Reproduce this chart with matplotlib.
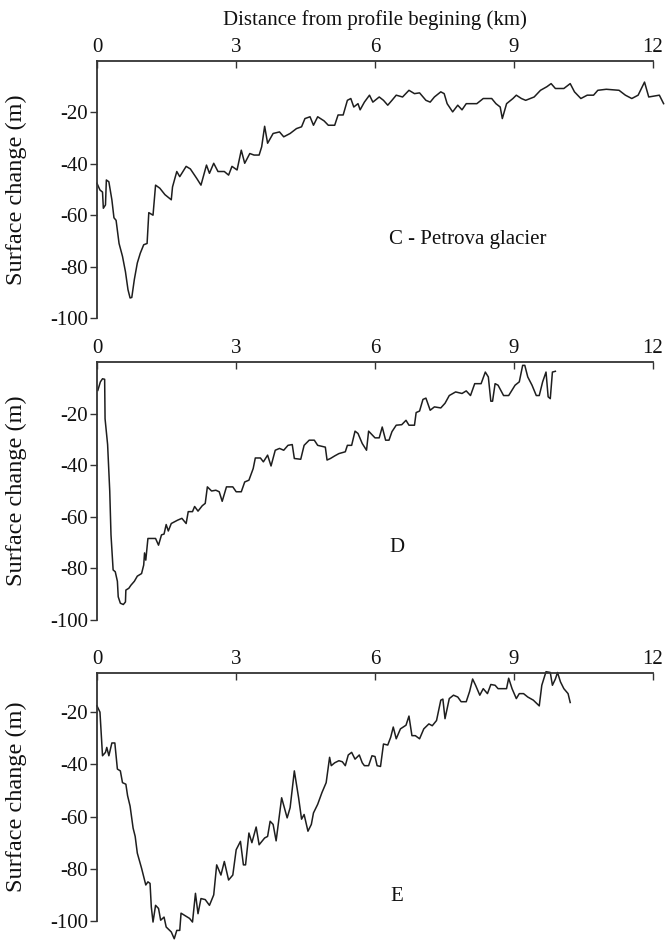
import matplotlib
matplotlib.use("Agg")
import matplotlib.pyplot as plt

plt.rcParams['font.family'] = ['Liberation Serif', 'DejaVu Serif']
plt.rcParams['axes.unicode_minus'] = False

# Panel C - Petrova glacier
c_km = [0.000, 0.064, 0.119, 0.137, 0.183, 0.202, 0.256, 0.321, 0.366, 0.412, 0.476, 0.550, 0.614, 0.669,
        0.714, 0.751, 0.806, 0.870, 0.934, 1.008, 1.081, 1.118, 1.209, 1.264, 1.356, 1.466, 1.603, 1.630,
        1.722, 1.786, 1.924, 2.015, 2.153, 2.244, 2.363, 2.427, 2.519, 2.611, 2.748, 2.840, 2.913, 3.023,
        3.114, 3.188, 3.298, 3.389, 3.499, 3.554, 3.618, 3.682, 3.801, 3.939, 4.030, 4.168, 4.305, 4.415,
        4.488, 4.598, 4.672, 4.763, 4.901, 4.992, 5.130, 5.203, 5.313, 5.404, 5.478, 5.542, 5.633, 5.679,
        5.771, 5.881, 5.954, 6.091, 6.183, 6.275, 6.366, 6.458, 6.595, 6.733, 6.852, 6.962, 7.099, 7.191,
        7.282, 7.420, 7.493, 7.557, 7.676, 7.786, 7.878, 7.969, 8.198, 8.336, 8.519, 8.610, 8.702, 8.748,
        8.840, 8.977, 9.050, 9.160, 9.252, 9.435, 9.572, 9.710, 9.801, 9.893, 10.076, 10.213, 10.305,
        10.443, 10.580, 10.717, 10.809, 10.992, 11.267, 11.404, 11.542, 11.679, 11.817, 11.908, 12.137, 12.229]
c_dz = [-47.6, -50.2, -51, -57.3, -56, -46.3, -47, -54, -61, -62, -71, -76, -82, -89,
        -92.2, -92, -85, -78.6, -74.8, -71.5, -71, -59, -60, -48.3, -49.5, -52, -54, -49,
        -43, -45, -41, -42, -45.7, -48.3, -40.5, -43.7, -39.8, -43, -43, -44.4, -41, -42.4,
        -34.7, -39.8, -36, -36.6, -36.6, -33.4, -25.4, -32, -28.2, -27.6, -29.5, -28.2, -26.3, -25.6,
        -22.4, -21.7, -25, -21.7, -23.3, -25, -25, -21, -21, -15.3, -14.6, -17.9, -16.6, -19,
        -16, -13.3, -16, -14, -15.3, -17.2, -15.3, -13.3, -14, -11.4, -12.7, -12.4, -15.3, -16,
        -14, -12, -12.7, -16.6, -19.8, -17.2, -19, -16.6, -16.6, -14.6, -14.6, -16.6, -17.9, -22.4,
        -16.6, -14.6, -13.3, -14.6, -15.3, -14, -11.4, -10, -8.8, -10.7, -10.7, -8.8, -12,
        -14.6, -13.3, -13.3, -11.4, -11, -11.4, -13.3, -14.6, -13.3, -8.2, -14, -13.3, -16.6]

# Panel D
d_km = [0.018, 0.073, 0.119, 0.165, 0.174, 0.229, 0.275, 0.302, 0.348, 0.394, 0.440, 0.458, 0.504, 0.568,
        0.614, 0.623, 0.687, 0.733, 0.806, 0.870, 0.962, 1.008, 1.026, 1.053, 1.099, 1.264, 1.328, 1.392,
        1.447, 1.493, 1.539, 1.603, 1.740, 1.832, 1.924, 1.969, 2.061, 2.107, 2.180, 2.272, 2.336, 2.382,
        2.473, 2.565, 2.638, 2.702, 2.794, 2.931, 3.004, 3.114, 3.188, 3.279, 3.371, 3.417, 3.527, 3.591,
        3.682, 3.756, 3.847, 3.939, 4.030, 4.122, 4.214, 4.259, 4.397, 4.470, 4.580, 4.690, 4.763, 4.928,
        4.965, 5.038, 5.130, 5.221, 5.359, 5.404, 5.496, 5.569, 5.633, 5.725, 5.817, 5.862, 6.000, 6.091,
        6.156, 6.229, 6.302, 6.366, 6.458, 6.577, 6.669, 6.733, 6.852, 6.888, 6.962, 7.035, 7.099, 7.191,
        7.282, 7.420, 7.511, 7.603, 7.740, 7.878, 7.969, 8.061, 8.152, 8.290, 8.381, 8.446, 8.500, 8.537,
        8.592, 8.656, 8.775, 8.885, 9.023, 9.114, 9.187, 9.233, 9.297, 9.389, 9.481, 9.545, 9.618, 9.691,
        9.737, 9.783, 9.829, 9.893]
d_dz = [-11, -7.7, -6.5, -6.7, -22, -32, -50, -67, -80.6, -81.3, -85, -91, -93.5, -94,
        -93, -88.4, -87.7, -86.5, -85, -83, -82, -78.7, -74, -76.8, -68.4, -68.4, -71, -67,
        -66.7, -63, -65.5, -62.6, -61.3, -60.6, -62.6, -58, -58, -56, -57.8, -55.7, -54.8, -48.4,
        -50, -49.7, -50.3, -54, -48.4, -48.4, -50.3, -50.3, -46.5, -45.8, -41.3, -37.2, -37.2, -38.7,
        -36.1, -40.3, -34.2, -33.5, -34.2, -32.3, -32, -37.4, -37.7, -32.3, -30.3, -30.3, -32.3, -33,
        -38, -37.4, -36.4, -35.5, -34.8, -32.3, -32.3, -26.8, -27.7, -31.6, -34.2, -26.8, -29.4, -29.4,
        -25.2, -30.3, -30.3, -27, -24.5, -24.3, -22.6, -24.5, -24.5, -19.6, -19, -14.5, -14, -18.7,
        -17.4, -17.8, -16, -13, -11.6, -12.2, -11.2, -13, -8.4, -8.4, -3.9, -5.8, -15.2, -15.2,
        -8.4, -9, -13, -13, -9, -7.7, -1.3, -1.3, -5.8, -9, -13, -13, -7.7, -3.9,
        -13.5, -14.2, -3.9, -3.6]

# Panel E
e_km = [0.000, 0.064, 0.119, 0.183, 0.211, 0.256, 0.321, 0.385, 0.440, 0.504, 0.550, 0.623, 0.660, 0.714,
        0.779, 0.824, 0.870, 0.962, 1.008, 1.053, 1.099, 1.145, 1.172, 1.209, 1.264, 1.328, 1.374, 1.447,
        1.493, 1.603, 1.667, 1.722, 1.786, 1.814, 1.905, 1.997, 2.061, 2.125, 2.180, 2.244, 2.336, 2.427,
        2.519, 2.583, 2.675, 2.748, 2.840, 2.931, 3.004, 3.096, 3.160, 3.206, 3.279, 3.343, 3.435, 3.499,
        3.618, 3.682, 3.737, 3.801, 3.866, 3.985, 4.104, 4.168, 4.259, 4.351, 4.415, 4.470, 4.553, 4.626,
        4.672, 4.763, 4.855, 4.946, 5.020, 5.056, 5.130, 5.221, 5.295, 5.359, 5.423, 5.496, 5.569, 5.661,
        5.725, 5.771, 5.862, 5.935, 6.000, 6.046, 6.119, 6.183, 6.275, 6.339, 6.394, 6.458, 6.549, 6.669,
        6.733, 6.797, 6.870, 6.962, 7.053, 7.163, 7.236, 7.328, 7.420, 7.465, 7.511, 7.603, 7.694, 7.786,
        7.859, 7.969, 8.043, 8.107, 8.171, 8.262, 8.336, 8.427, 8.500, 8.592, 8.656, 8.839, 8.885, 8.958,
        9.050, 9.114, 9.206, 9.297, 9.417, 9.545, 9.600, 9.691, 9.783, 9.829, 9.893, 9.939, 10.003, 10.076,
        10.167, 10.213]
e_dz = [-17.6, -20, -36.7, -35.4, -33.5, -36.7, -31.8, -31.8, -41.8, -42.5, -47, -47.6, -52, -56,
        -64.4, -67.6, -74, -79.8, -83, -86.2, -85, -85.6, -94.6, -100.4, -94, -95.2, -99.7, -98.5,
        -102.3, -104.2, -106.8, -103.6, -103.6, -97, -98, -99, -100.4, -89.4, -97.2, -91.4, -91.8, -94,
        -90, -78.5, -82.4, -77.2, -84.3, -82.4, -72.7, -69.5, -78.5, -78.5, -66.3, -70, -64, -70.8,
        -68.2, -67.6, -61.8, -63, -69.3, -52.8, -60.5, -56.6, -42.5, -52.8, -61, -59.2, -65.6, -63,
        -58.6, -55.3, -50.8, -47, -37.3, -40.5, -39.4, -38.6, -39, -40.5, -36.4, -35.4, -38, -36.4,
        -39.4, -40.5, -40.5, -36.7, -37, -40.5, -40.8, -32.2, -32.6, -29.6, -25.7, -30.2, -26.4, -25,
        -21.5, -29, -29, -30.2, -26.4, -24.5, -25.2, -23.2, -15.4, -15, -22.5, -14.8, -13.5, -14.2,
        -16, -16, -12, -7.3, -9.7, -13.5, -11, -12.9, -9.4, -9.7, -11, -11, -7, -11,
        -14.8, -12.9, -12.9, -14.2, -15.4, -17.6, -9.7, -4.5, -4.8, -9.7, -7.3, -4.8, -8.4, -11,
        -12.9, -16.3]

x_ticks = [0, 3, 6, 9, 12]
y_ticks = [-100, -80, -60, -40, -20]
panel_labels = ["C - Petrova glacier", "D", "E"]
x_title = "Distance from profile begining (km)"
y_title = "Surface change (m)"

W, H = 665, 941
fig = plt.figure(figsize=(W / 100, H / 100), dpi=100)

def frac_box(top_px, bot_px, left_px=97, right_px=653):
    return [left_px / W, 1 - bot_px / H, (right_px - left_px) / W, (bot_px - top_px) / H]

panels = [
    (c_km, c_dz, frac_box(61, 318), (-100, 0), panel_labels[0], (6.3, -69.5), 'left'),
    (d_km, d_dz, frac_box(362, 620), (-100, 0), panel_labels[1], (6.47, -72), 'center'),
    (e_km, e_dz, frac_box(673, 921), (-100, -5), panel_labels[2], (6.47, -90.5), 'center'),
]

col = '#1e1e1e'
fs = 15
for i, (xs, ys, box, ylim, lab, lpos, ha) in enumerate(panels):
    ax = fig.add_axes(box)
    ax.plot(xs, ys, color=col, lw=1.1, clip_on=False)
    ax.set_xlim(0, 12)
    ax.set_ylim(*ylim)
    for s in ['right', 'bottom']:
        ax.spines[s].set_visible(False)
    for s in ['top', 'left']:
        ax.spines[s].set_linewidth(1.3)
        ax.spines[s].set_color('#333333')
    ax.xaxis.set_ticks_position('top')
    ax.xaxis.set_label_position('top')
    ax.set_xticks(x_ticks)
    ax.set_xticklabels([str(t) for t in x_ticks])
    ax.set_yticks(y_ticks)
    ax.set_yticklabels([str(t) for t in y_ticks])
    ax.tick_params(axis='x', direction='in', length=5, width=1.0, pad=3, labelsize=fs,
                   colors='#333333', labelcolor='#111111')
    ax.tick_params(axis='y', direction='out', length=5, width=1.0, pad=1.5, labelsize=fs,
                   colors='#333333', labelcolor='#111111')
    ax.set_ylabel(y_title, fontsize=17.5, color='#111111')
    ax.yaxis.set_label_coords(-0.126, 0.5)
    if i == 0:
        ax.set_xlabel(x_title, fontsize=fs, color='#111111', labelpad=9)
    ax.text(lpos[0], lpos[1], lab, fontsize=fs, ha=ha, va='center', color='#111111')
    ax.patch.set_alpha(0)

fig.savefig("out.png", dpi=100)
